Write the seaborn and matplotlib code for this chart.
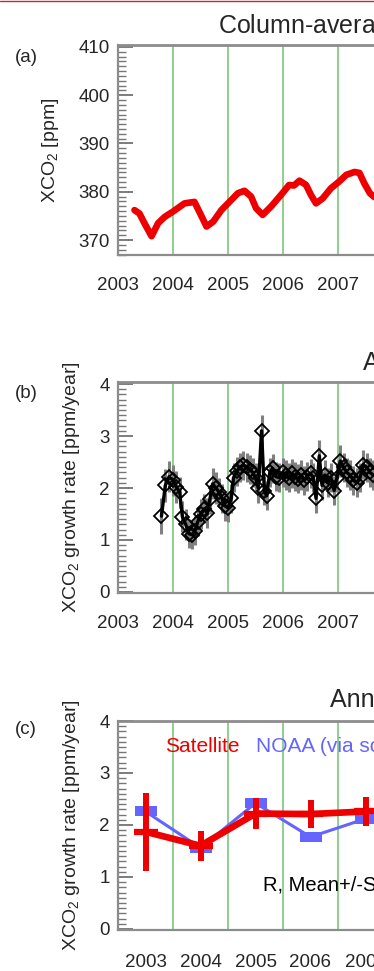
import numpy as np
import pandas as pd
import matplotlib
matplotlib.use("Agg")
import matplotlib.pyplot as plt
import seaborn as sns
from matplotlib.ticker import MultipleLocator
from matplotlib.lines import Line2D

# ---------------- data ----------------
# (a) column-averaged CO2, satellite [ppm]
a_time = [2003.30, 2003.39, 2003.48, 2003.61, 2003.73, 2003.85, 2004.00, 2004.21,
          2004.39, 2004.49, 2004.61, 2004.73, 2004.88, 2005.00, 2005.18, 2005.30,
          2005.42, 2005.51, 2005.63, 2005.78, 2005.99, 2006.11, 2006.20, 2006.30,
          2006.42, 2006.51, 2006.60, 2006.72, 2006.87, 2007.02, 2007.15, 2007.30,
          2007.39, 2007.48, 2007.58, 2007.66]
a_xco2 = [376.2, 375.5, 373.5, 370.8, 373.5, 374.8, 375.9, 377.6,
          377.9, 375.6, 372.8, 373.8, 376.2, 377.6, 379.7, 380.2,
          379.0, 376.6, 375.2, 376.9, 379.7, 381.4, 381.3, 382.3,
          381.4, 379.3, 377.6, 378.6, 380.7, 382.1, 383.5, 384.1,
          383.9, 381.7, 379.7, 378.9]

# (b) growth rate [ppm/year] with uncertainty
b_time = [2003.79, 2003.86, 2003.93, 2004.00, 2004.06, 2004.12, 2004.17, 2004.23,
          2004.29, 2004.35, 2004.40, 2004.45, 2004.51, 2004.57, 2004.62, 2004.67,
          2004.72, 2004.78, 2004.84, 2004.89, 2004.95, 2005.00, 2005.06, 2005.10,
          2005.16, 2005.22, 2005.28, 2005.34, 2005.40, 2005.45, 2005.50, 2005.55,
          2005.61, 2005.66, 2005.70, 2005.76, 2005.81, 2005.87, 2005.93, 2006.00,
          2006.05, 2006.10, 2006.16, 2006.22, 2006.27, 2006.33, 2006.39, 2006.44,
          2006.50, 2006.55, 2006.60, 2006.66, 2006.71, 2006.76, 2006.82, 2006.87,
          2006.93, 2006.98, 2007.04, 2007.10, 2007.16, 2007.22, 2007.28, 2007.34,
          2007.40, 2007.46, 2007.52, 2007.58, 2007.64]
b_rate = [1.46, 2.05, 2.22, 2.15, 2.02, 1.92, 1.45, 1.30,
          1.12, 1.10, 1.18, 1.35, 1.50, 1.60, 1.52, 1.78,
          2.08, 2.00, 1.92, 1.80, 1.65, 1.62, 1.80, 2.20,
          2.32, 2.40, 2.44, 2.40, 2.35, 2.30, 2.20, 2.00,
          3.10, 1.95, 1.85, 2.30, 2.38, 2.22, 2.20, 2.30,
          2.25, 2.20, 2.28, 2.22, 2.18, 2.25, 2.15, 2.22,
          2.28, 2.20, 1.80, 2.62, 2.05, 2.25, 2.10, 2.20,
          1.95, 2.20, 2.52, 2.40, 2.30, 2.25, 2.15, 2.10,
          2.20, 2.45, 2.40, 2.30, 2.25]
b_err = [0.35, 0.32, 0.30, 0.30, 0.30, 0.30, 0.30, 0.30,
         0.28, 0.28, 0.28, 0.28, 0.28, 0.28, 0.28, 0.28,
         0.30, 0.30, 0.28, 0.28, 0.28, 0.28, 0.28, 0.28,
         0.28, 0.28, 0.28, 0.28, 0.28, 0.28, 0.28, 0.28,
         0.30, 0.28, 0.28, 0.28, 0.28, 0.28, 0.28, 0.28,
         0.28, 0.28, 0.28, 0.28, 0.28, 0.28, 0.28, 0.28,
         0.28, 0.28, 0.28, 0.30, 0.28, 0.28, 0.28, 0.28,
         0.28, 0.28, 0.30, 0.28, 0.28, 0.28, 0.28, 0.28,
         0.28, 0.28, 0.28, 0.28, 0.28]

# (c) annual growth rates [ppm/year]
c_year = [2003.5, 2004.5, 2005.5, 2006.5, 2007.5]
c_sat = [1.87, 1.60, 2.22, 2.21, 2.26]
c_sat_err = [0.75, 0.29, 0.30, 0.27, 0.28]
c_noaa = [2.26, 1.56, 2.42, 1.77, 2.12]

year_labels = ["2003", "2004", "2005", "2006", "2007"]

# ---------------- style ----------------
sns.set_style("white")
plt.rcParams['font.family'] = ['Liberation Sans', 'DejaVu Sans']
plt.rcParams['mathtext.fontset'] = 'custom'
plt.rcParams['mathtext.rm'] = 'Liberation Sans'
plt.rcParams['mathtext.it'] = 'Liberation Sans:italic'
plt.rcParams['mathtext.bf'] = 'Liberation Sans:bold'

W, H = 374, 971
fig = plt.figure(figsize=(W / 100, H / 100), dpi=100)
fig.patch.set_facecolor('white')

def fx(x):
    return x / W

def fy(y):
    return 1 - y / H

PXY = 55.0      # pixels per year
X0 = 118        # left edge of axes in px
XMAX = 2010
TICK_FS = 13.5
GREEN = '#7cc87c'
RED = '#ee0000'
BLUE = '#6464ff'
SPINE = '#8c8c8c'


def make_ax(top, bottom, ylim, major, minor, xpad):
    width = PXY * (XMAX - 2003)
    ax = fig.add_axes([fx(X0), fy(bottom), width / W, (bottom - top) / H])
    ax.set_xlim(2003, XMAX)
    ax.set_ylim(*ylim)
    for s in ['left', 'bottom', 'top']:
        ax.spines[s].set_color(SPINE)
        ax.spines[s].set_linewidth(1.6)
    ax.spines['top'].set_linewidth(2.0)
    ax.spines['right'].set_visible(False)
    ax.yaxis.set_major_locator(MultipleLocator(major))
    ax.yaxis.set_minor_locator(MultipleLocator(minor))
    ax.tick_params(axis='y', which='major', direction='in', length=11, width=1.2,
                   color='#666666', labelsize=TICK_FS, pad=5.8, left=True)
    ax.tick_params(axis='y', which='minor', direction='in', length=5.5, width=1.0,
                   color='#777777', left=True)
    ax.tick_params(axis='x', which='both', length=0, labelsize=TICK_FS, pad=xpad)
    for yr in range(2004, XMAX):
        ax.axvline(yr, color=GREEN, lw=1.2, zorder=1)
    ax.set_xlabel('')
    ax.set_ylabel('')
    ax.grid(False)
    return ax

# ---------- panel (a) ----------
ax_a = make_ax(45, 255, (366.9, 410.4), 10, 1, 16)
sns.lineplot(x=a_time, y=a_xco2, ax=ax_a, color=RED, lw=4.8, zorder=3,
             solid_joinstyle='round', solid_capstyle='round', legend=False)
ax_a.set_xticks(list(range(2003, 2008)))
ax_a.set_xticklabels(year_labels)
ax_a.set_yticks([370, 380, 390, 400, 410])

# ---------- panel (b) ----------
ax_b = make_ax(382, 593, (-0.02, 4.04), 1, 0.1, 16)
ax_b.errorbar(b_time, b_rate, yerr=b_err, fmt='none', ecolor='#808080',
              elinewidth=2.2, capsize=0, zorder=2)
sns.lineplot(x=b_time, y=b_rate, ax=ax_b, color='black', lw=2.4, marker='D',
             ms=7.2, mfc='none', mec='black', mew=1.3, zorder=3, legend=False)
ax_b.set_xticks(list(range(2003, 2008)))
ax_b.set_xticklabels(year_labels)
ax_b.set_yticks([0, 1, 2, 3, 4])

# ---------- panel (c) ----------
ax_c = make_ax(721, 930, (-0.02, 4.0), 1, 0.1, 17.5)
rect = [(-1, -0.43), (1, -0.43), (1, 0.43), (-1, 0.43), (-1, -0.43)]
sns.lineplot(x=c_year, y=c_noaa, ax=ax_c, color=BLUE, lw=2.2, marker=rect,
             ms=16.5, mfc=BLUE, mec=BLUE, mew=0, zorder=3, legend=False)
ax_c.errorbar(c_year, c_sat, yerr=c_sat_err, fmt='none', ecolor=RED,
              elinewidth=4.3, capsize=0, zorder=4)
sns.lineplot(x=c_year, y=c_sat, ax=ax_c, color=RED, lw=4.8, marker='_',
             ms=17, mec=RED, mew=4.5, zorder=5, legend=False,
             solid_joinstyle='round')
ax_c.set_xticks([y + 0.5 for y in range(2003, 2008)])
ax_c.set_xticklabels(year_labels)
ax_c.set_yticks([0, 1, 2, 3, 4])

# ---------------- texts ----------------
def ftext(x, y, s, **kw):
    fig.text(fx(x), fy(y), s, **kw)

ftext(218, 33, 'Column-averaged CO$_2$ (XCO$_2$) from satellite', fontsize=18,
      ha='left', va='baseline')
ftext(363, 370, 'Annual increase', fontsize=18, ha='left', va='baseline')
ftext(330, 707, 'Annual mean growth rate', fontsize=18, ha='left', va='baseline')

ftext(15, 57, '(a)', fontsize=13.5, ha='left', va='center')
ftext(15, 394, '(b)', fontsize=13.5, ha='left', va='center')
ftext(15, 730, '(c)', fontsize=13.5, ha='left', va='center')

ftext(51, 150, 'XCO$_2$ [ppm]', fontsize=14, rotation=90, ha='center', va='center')
ftext(72, 487.5, 'XCO$_2$ growth rate [ppm/year]', fontsize=14, rotation=90,
      ha='center', va='center')
ftext(71, 825.5, 'XCO$_2$ growth rate [ppm/year]', fontsize=14, rotation=90,
      ha='center', va='center')

ftext(164.7, 751.7, 'Satellite', fontsize=15, color=RED, ha='left', va='baseline')
ftext(256, 751.7, 'NOAA (via scaling)', fontsize=15, color=BLUE, ha='left', va='baseline')
ftext(263.3, 890, 'R, Mean+/-SD', fontsize=14.5, color='black', ha='left', va='baseline')

# thin page border at the top
fig.add_artist(Line2D([0, 1], [fy(1.5), fy(1.5)], transform=fig.transFigure,
                      color='#cc2244', lw=1.0))

fig.savefig('out.png', dpi=100)
